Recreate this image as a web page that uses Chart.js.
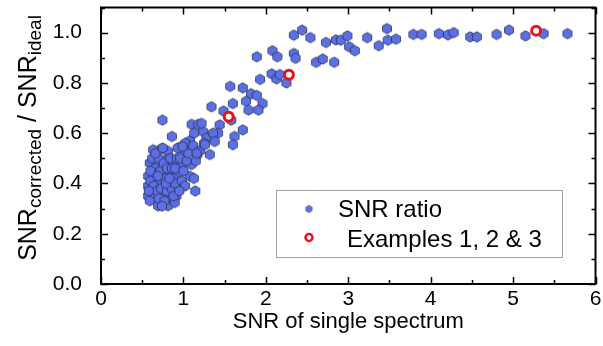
<!DOCTYPE html>
<html><head><meta charset="utf-8">
<script src="https://cdn.jsdelivr.net/npm/chart.js@4/dist/chart.umd.min.js"></script>
<style>html,body{margin:0;padding:0;background:#fff}#wrap{width:603px;height:346px}</style>
</head><body><div id="wrap"><canvas id="c" width="603" height="346"></canvas></div>
<script>
// ---- data ----
const ratioX = [
0.632,0.733,0.813,0.955,1.024,1.17,1.32,0.592,0.692,0.794,0.874,0.975,1.096,0.572,0.653,0.753,0.834,0.934,1.076,1.127,
0.572,0.713,0.794,0.934,1.144,0.572,0.653,0.753,0.834,0.915,0.592,0.813,0.894,0.692,
0.62,0.66,0.70,0.72,0.76,0.78,0.80,0.84,0.86,0.88,0.90,0.92,0.96,1.00,1.04,1.06,1.15,0.60,0.64,0.68,0.70,0.73,0.77,0.80,
0.86,0.88,0.90,0.98,1.02,0.66,0.60,0.58,0.74,0.79,0.95,0.83,0.69,1.08,1.02,
0.745,0.86,1.10,1.18,1.34,1.24,1.28,0.75,0.93,0.99,1.12,1.20,1.25,1.13,1.16,
1.567,1.72,1.93,2.07,2.13,1.486,1.60,1.58,1.82,1.89,1.76,1.96,1.79,1.91,1.72,1.62,1.60,1.44,1.42,1.36,1.22,1.26,1.38,
1.89,2.08,2.14,2.34,2.36,2.61,2.69,2.83,2.34,2.44,2.54,2.73,2.85,2.17,2.25,
2.91,2.99,3.01,3.08,3.23,3.47,3.37,3.48,3.58,3.79,3.89,
4.10,4.21,4.28,4.48,4.56,4.80,4.95,5.15,5.37,5.66
];
const ratioY = [
0.534,0.538,0.528,0.543,0.528,0.515,0.515,0.481,0.475,0.495,0.488,0.475,0.475,0.429,0.436,0.442,0.436,0.436,0.429,0.420,
0.390,0.403,0.396,0.396,0.370,0.350,0.344,0.357,0.337,0.350,0.331,0.311,0.324,0.311,
0.50,0.46,0.50,0.45,0.48,0.42,0.46,0.50,0.46,0.42,0.46,0.50,0.50,0.45,0.49,0.52,0.49,0.41,0.39,0.37,0.34,0.38,0.33,0.37,
0.38,0.35,0.40,0.41,0.39,0.52,0.45,0.37,0.31,0.40,0.37,0.42,0.43,0.57,0.56,
0.652,0.587,0.635,0.635,0.705,0.606,0.580,0.541,0.541,0.547,0.55,0.53,0.56,0.60,0.52,
0.786,0.780,0.814,0.836,0.816,0.688,0.718,0.652,0.757,0.750,0.727,0.718,0.692,0.692,0.613,0.587,0.554,0.633,0.600,0.600,0.639,0.554,0.567,
0.904,0.928,0.904,0.917,0.898,0.882,0.895,0.882,0.990,1.010,0.980,0.961,0.971,0.833,0.800,
0.970,0.987,0.944,0.928,0.980,1.016,0.948,0.970,0.974,0.993,0.993,
0.996,0.991,1.000,0.983,0.983,0.993,1.010,0.987,0.996,0.996
];
const exampleX = [1.55, 2.28, 5.28];
const exampleY = [0.665, 0.832, 1.008];
const xTickValues = [0, 1, 2, 3, 4, 5, 6];
const yTickValues = [0.0, 0.2, 0.4, 0.6, 0.8, 1.0];
const xMinorStep = 0.5, yMinorStep = 0.1;

// ---- marker images ----
const BLUE = '#5c70e6', EDGE = '#2b2f55';
function hexImage(r, lw) {
  const s = Math.ceil(2 * r + 2 * lw + 2);
  const c = document.createElement('canvas'); c.width = s; c.height = s;
  const g = c.getContext('2d');
  g.beginPath();
  for (let i = 0; i < 6; i++) {
    const a = -Math.PI / 2 + i * Math.PI / 3;
    const px = s / 2 + r * Math.cos(a), py = s / 2 + r * Math.sin(a);
    i ? g.lineTo(px, py) : g.moveTo(px, py);
  }
  g.closePath();
  g.fillStyle = BLUE; g.fill();
  g.lineWidth = lw; g.strokeStyle = EDGE; g.stroke();
  return c;
}
const hexBig = hexImage(5.2, 0.8);
const hexSmall = hexImage(3.6, 0.6);

const ratioData = ratioX.map((x, i) => ({x, y: ratioY[i]}));
const exampleData = exampleX.map((x, i) => ({x, y: exampleY[i]}));

const FONT = "'Liberation Sans', Arial, sans-serif";

function zeroPad(s) { s.paddingTop = 0; s.paddingBottom = 0; s.paddingLeft = 0; s.paddingRight = 0; }

const framePlugin = {
  id: 'frame',
  afterDatasetsDraw(chart) {
    const {ctx, chartArea: a, scales: {x, y}} = chart;
    ctx.save();
    ctx.strokeStyle = '#000';
    ctx.lineWidth = 2;
    ctx.strokeRect(a.left, a.top, a.right - a.left, a.bottom - a.top);
    ctx.lineWidth = 1.5;
    ctx.beginPath();
    for (let v = x.min; v <= x.max + 1e-9; v += xMinorStep) {
      const major = Math.abs(v - Math.round(v)) < 1e-6;
      const L = major ? 7 : 4;
      const px = Math.round(x.getPixelForValue(v)) + 0.5;
      ctx.moveTo(px, a.bottom); ctx.lineTo(px, a.bottom - L);
      ctx.moveTo(px, a.top); ctx.lineTo(px, a.top + L);
    }
    for (let v = 0; v <= y.max + 1e-9; v += yMinorStep) {
      const k = Math.round(v / yMinorStep);
      const major = k % 2 === 0;
      const L = major ? 7 : 4;
      const py = Math.round(y.getPixelForValue(k * yMinorStep)) + 0.5;
      ctx.moveTo(a.left, py); ctx.lineTo(a.left + L, py);
      ctx.moveTo(a.right, py); ctx.lineTo(a.right - L, py);
    }
    ctx.stroke();
    ctx.restore();
  },
  afterDraw(chart) {
    const ctx = chart.ctx;
    ctx.save();
    // legend box
    ctx.fillStyle = '#fff';
    ctx.fillRect(277, 190, 286, 67);
    ctx.strokeStyle = '#a0a0a0'; ctx.lineWidth = 1;
    ctx.strokeRect(276.5, 190.5, 286, 67);
    ctx.drawImage(hexSmall, 309 - hexSmall.width / 2, 209 - hexSmall.height / 2);
    ctx.beginPath(); ctx.arc(309, 237.5, 3.5, 0, Math.PI * 2);
    ctx.fillStyle = '#fff'; ctx.fill();
    ctx.strokeStyle = '#ee1111'; ctx.lineWidth = 2.5; ctx.stroke();
    ctx.fillStyle = '#000';
    ctx.font = '24px ' + FONT;
    ctx.textBaseline = 'middle'; ctx.textAlign = 'left';
    ctx.fillText('SNR ratio', 338, 210);
    ctx.fillText('Examples 1, 2 & 3', 347, 240);
    // y title with subscripts
    const parts = [['SNR', 25, 0], ['corrected', 19, 5], [' / SNR', 25, 0], ['ideal', 19, 5]];
    let total = 0;
    parts.forEach(p => { ctx.font = p[1] + 'px ' + FONT; total += ctx.measureText(p[0]).width; });
    ctx.translate(36, 138);
    ctx.rotate(-Math.PI / 2);
    ctx.textBaseline = 'alphabetic';
    let cx = -total / 2;
    parts.forEach(p => {
      ctx.font = p[1] + 'px ' + FONT;
      ctx.fillText(p[0], cx, p[2]);
      cx += ctx.measureText(p[0]).width;
    });
    ctx.restore();
  }
};

new Chart(document.getElementById('c'), {
  type: 'scatter',
  data: {
    datasets: [
      {label: 'Examples 1, 2 & 3', data: exampleData, pointStyle: 'circle', pointRadius: 4.5,
       backgroundColor: '#fff', borderColor: '#ee1111', borderWidth: 3, order: 0},
      {label: 'SNR ratio', data: ratioData, pointStyle: hexBig, pointRadius: 5, order: 1}
    ]
  },
  options: {
    responsive: false, animation: false, devicePixelRatio: 1,
    layout: {padding: {top: 0, right: 6, left: 0, bottom: 0}},
    plugins: {legend: {display: false}, tooltip: {enabled: false}},
    scales: {
      x: {
        type: 'linear', min: 0, max: 6,
        afterBuildTicks: s => { s.ticks = xTickValues.map(v => ({value: v})); },
        afterFit: s => { s.height = 62; zeroPad(s); },
        grid: {display: false, drawTicks: false, tickLength: 0},
        border: {display: false},
        ticks: {color: '#000', font: {size: 21, family: FONT}, padding: 3, maxRotation: 0,
                callback: v => String(v)},
        title: {display: true, text: 'SNR of single spectrum', color: '#000',
                font: {size: 22, family: FONT}, padding: {top: 0, bottom: 11}}
      },
      y: {
        type: 'linear', min: 0, max: 1.1,
        afterBuildTicks: s => { s.ticks = yTickValues.map(v => ({value: v})); },
        afterFit: s => { s.width = 101; zeroPad(s); },
        grid: {display: false, drawTicks: false, tickLength: 0},
        border: {display: false},
        ticks: {color: '#000', font: {size: 21, family: FONT}, padding: 19,
                callback: v => Number(v).toFixed(1)}
      }
    }
  },
  plugins: [framePlugin]
});
</script>
</body></html>
